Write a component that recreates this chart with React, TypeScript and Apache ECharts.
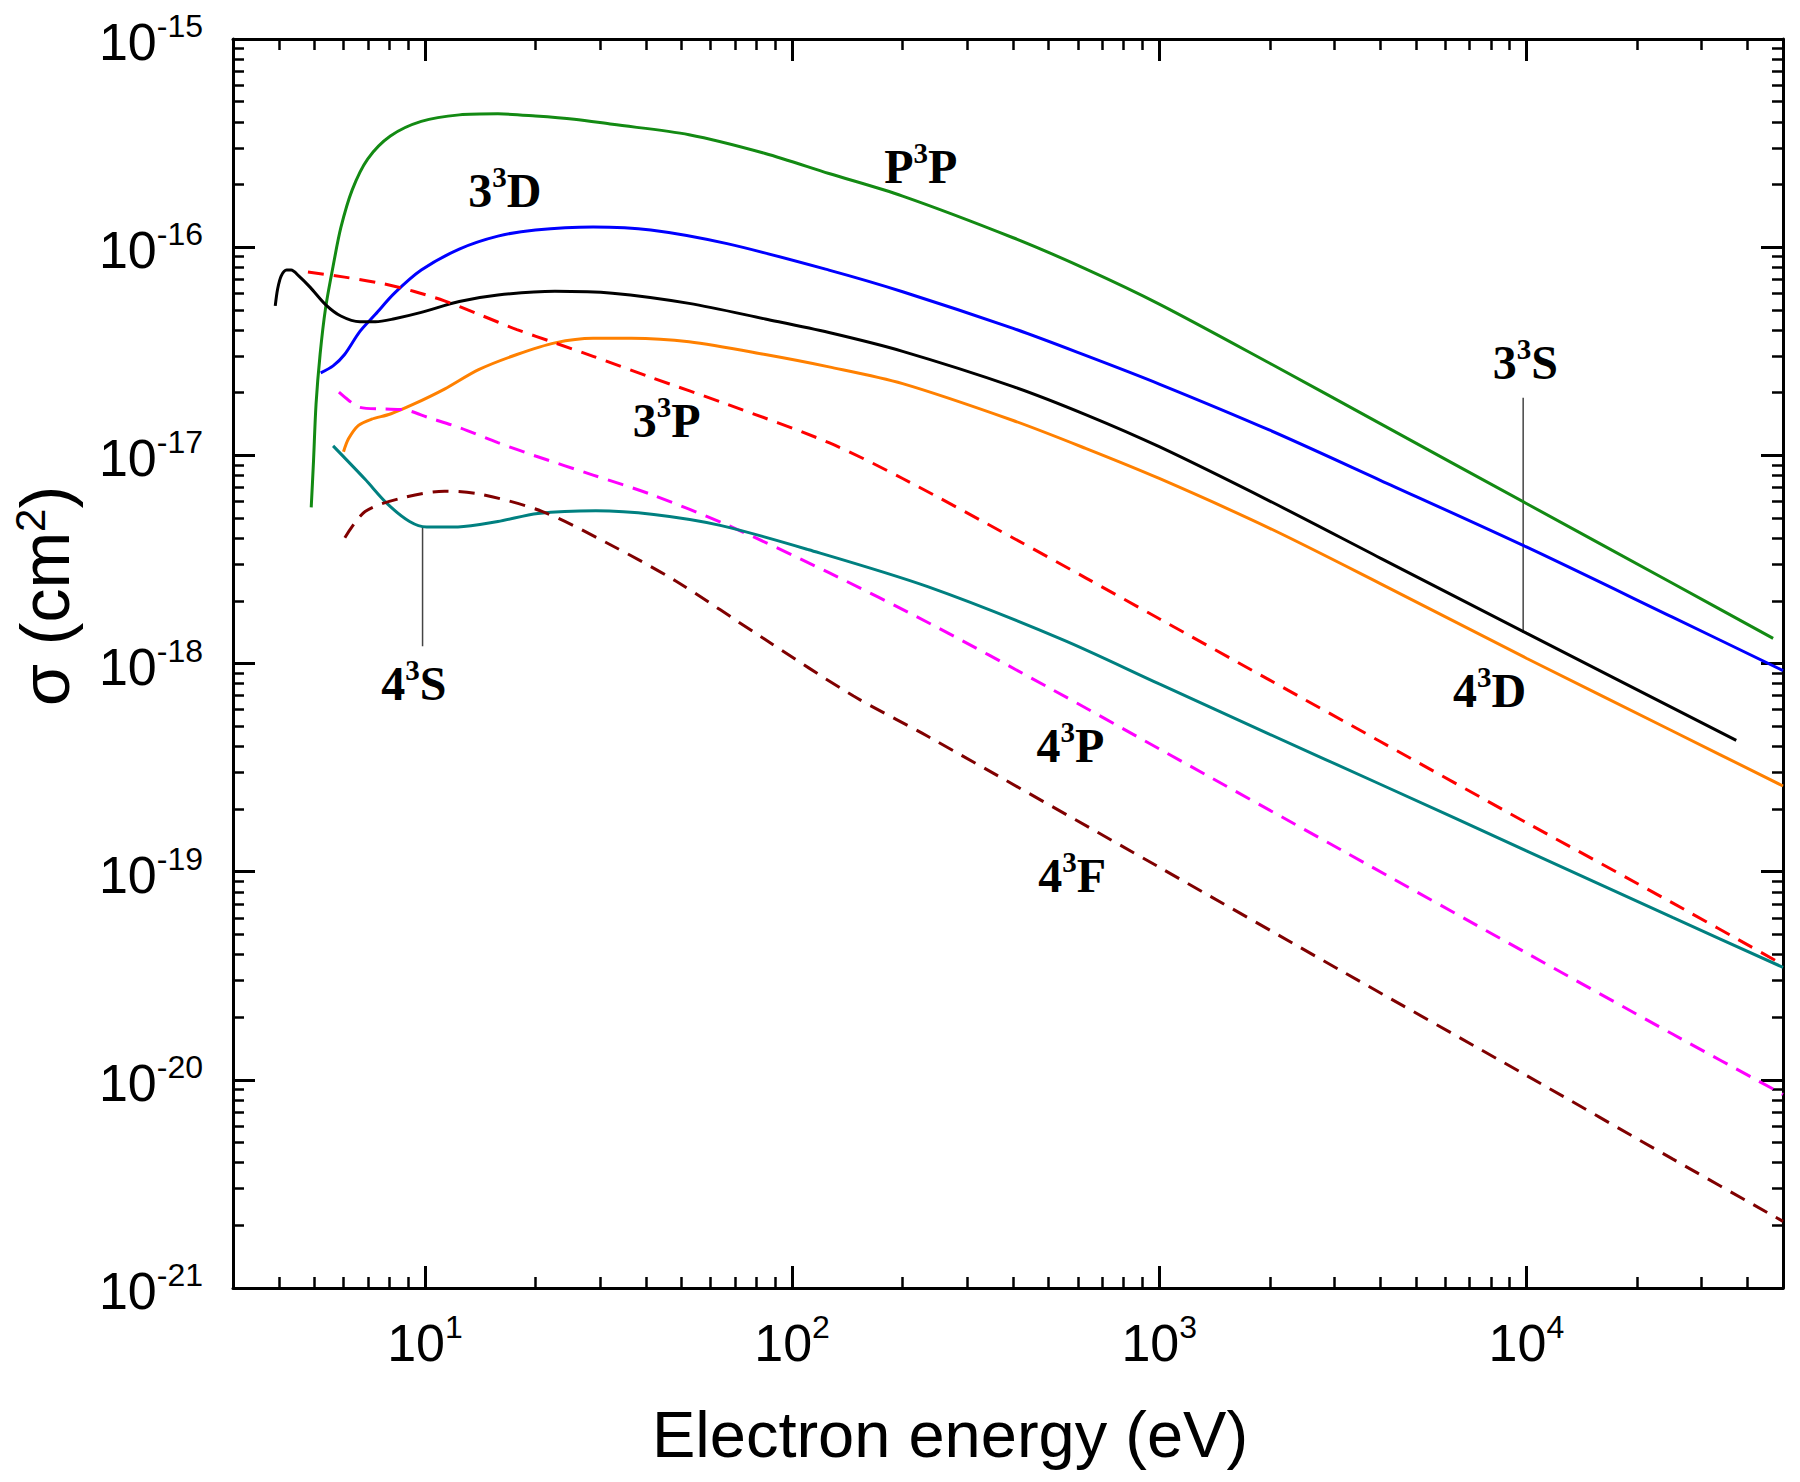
import React, { useEffect, useRef } from 'react';
import * as echarts from 'echarts';

// ---------- axis ranges and ticks ----------
const X_MIN = 3;
const X_MAX = 50000;
const Y_MIN = 1e-21;
const Y_MAX = 1e-15;
const X_MAJOR = [10, 100, 1000, 10000];
const X_MINOR = [4, 5, 6, 7, 8, 9, 20, 30, 40, 50, 60, 70, 80, 90, 200, 300, 400, 500, 600, 700, 800, 900,
  2000, 3000, 4000, 5000, 6000, 7000, 8000, 9000, 20000, 30000, 40000];
const Y_MAJOR = [1e-21, 1e-20, 1e-19, 1e-18, 1e-17, 1e-16, 1e-15];
const Y_DECADES = [-21, -20, -19, -18, -17, -16];
const Y_MINOR_MULT = [2, 3, 4, 5, 6, 7, 8, 9];

// ---------- series data (E in eV, sigma in cm^2) ----------
const PPP_E = [4.9, 4.97, 5.05, 5.18, 5.36, 5.62, 5.9, 6.34, 6.98, 8.05, 9.77, 12.4, 15.8, 20, 25.5, 32.4, 52.4, 84.5, 126, 200, 400, 630, 1000, 2000, 4000, 10000, 25000, 47000];
const PPP_S = [5.62e-18, 9.33e-18, 1.76e-17, 3.05e-17, 5.08e-17, 8.09e-17, 1.24e-16, 1.89e-16, 2.65e-16, 3.42e-16, 4.02e-16, 4.32e-16, 4.37e-16, 4.27e-16, 4.12e-16, 3.89e-16, 3.47e-16, 2.82e-16, 2.26e-16, 1.76e-16, 1.11e-16, 7.87e-17, 5.33e-17, 2.77e-17, 1.42e-17, 5.87e-18, 2.43e-18, 1.32e-18];

const D33_E = [5.2, 5.62, 6.04, 6.65, 7.33, 8.26, 9.77, 12.4, 15.8, 20, 28.7, 41.2, 66.5, 126, 200, 400, 630, 1000, 2000, 4000, 10000, 25000, 50000];
const D33_S = [2.49e-17, 2.69e-17, 3.05e-17, 3.94e-17, 4.76e-17, 6.01e-17, 7.76e-17, 9.79e-17, 1.13e-16, 1.21e-16, 1.25e-16, 1.21e-16, 1.04e-16, 7.76e-17, 6.11e-17, 4.07e-17, 3.02e-17, 2.20e-17, 1.32e-17, 7.59e-18, 3.63e-18, 1.67e-18, 9.25e-19];

const S33_E = [3.91, 3.97, 4.06, 4.2, 4.32, 4.53, 4.87, 5.36, 5.9, 6.65, 7.33, 8.26, 9.77, 12.4, 15.8, 22.6, 32.4, 52.4, 84.5, 126, 200, 400, 630, 1000, 2000, 4000, 10000, 37300];
const S33_S = [5.22e-17, 6.31e-17, 7.28e-17, 7.76e-17, 7.76e-17, 7.28e-17, 6.41e-17, 5.30e-17, 4.67e-17, 4.38e-17, 4.38e-17, 4.53e-17, 4.86e-17, 5.48e-17, 5.89e-17, 6.14e-17, 6.01e-17, 5.37e-17, 4.52e-17, 3.89e-17, 3.16e-17, 2.14e-17, 1.57e-17, 1.10e-17, 6.03e-18, 3.21e-18, 1.40e-18, 4.27e-19];

const P33_E = [6.0, 6.19, 6.58, 7.14, 8.05, 9.31, 11.3, 14.0, 17.8, 22.6, 28.7, 36.5, 52.4, 84.5, 126, 200, 400, 630, 1000, 2000, 4000, 10000, 25000, 50000];
const P33_S = [1.04e-17, 1.20e-17, 1.39e-17, 1.49e-17, 1.58e-17, 1.76e-17, 2.08e-17, 2.58e-17, 3.05e-17, 3.47e-17, 3.65e-17, 3.65e-17, 3.51e-17, 3.05e-17, 2.66e-17, 2.21e-17, 1.47e-17, 1.08e-17, 7.74e-18, 4.46e-18, 2.42e-18, 1.06e-18, 4.74e-19, 2.58e-19];

const D43_E = [4.8, 6.04, 7.67, 9.31, 11.3, 14.0, 17.8, 22.6, 28.7, 41.2, 66.5, 126, 200, 400, 630, 1000, 2000, 4000, 10000, 25000, 48000];
const D43_S = [7.59e-17, 7.18e-17, 6.68e-17, 6.14e-17, 5.52e-17, 4.76e-17, 4.02e-17, 3.47e-17, 2.99e-17, 2.37e-17, 1.76e-17, 1.15e-17, 7.74e-18, 4.01e-18, 2.58e-18, 1.64e-18, 8.32e-19, 4.22e-19, 1.72e-19, 7.08e-20, 3.72e-20];

const P43_E = [5.83, 6.19, 6.65, 7.67, 8.87, 10.2, 12.4, 15.8, 20, 28.7, 41.2, 66.5, 126, 235, 500, 1000, 3160, 10000, 25000, 50000];
const P43_S = [2.01e-17, 1.84e-17, 1.70e-17, 1.67e-17, 1.65e-17, 1.52e-17, 1.36e-17, 1.15e-17, 9.93e-18, 8.04e-18, 6.50e-18, 4.63e-18, 2.73e-18, 1.57e-18, 7.66e-19, 3.89e-19, 1.26e-19, 4.07e-20, 1.66e-20, 8.51e-21];

const S43_E = [5.62, 6.87, 7.89, 9.08, 10.1, 12.3, 15.8, 20.3, 29.2, 42, 63.7, 111, 234, 541, 1000, 2000, 4000, 10000, 25000, 50000];
const S43_S = [1.11e-17, 7.67e-18, 5.86e-18, 4.81e-18, 4.53e-18, 4.53e-18, 4.81e-18, 5.26e-18, 5.42e-18, 5.20e-18, 4.61e-18, 3.52e-18, 2.34e-18, 1.31e-18, 7.98e-19, 4.57e-19, 2.63e-19, 1.26e-19, 6.03e-20, 3.47e-20];

const F43_E = [6.05, 6.87, 8.59, 11.3, 14.2, 20.9, 31.8, 48.2, 84.1, 147, 234, 1000, 3160, 10000, 25000, 50000];
const F43_S = [4.02e-18, 5.37e-18, 6.22e-18, 6.73e-18, 6.50e-18, 5.37e-18, 3.74e-18, 2.49e-18, 1.31e-18, 6.98e-19, 4.47e-19, 1.05e-19, 3.31e-20, 1.05e-20, 4.17e-21, 2.09e-21];

// ---------- annotations ----------
const ANNO_PARTS = [['P', '3', 'P'], ['3', '3', 'D'], ['3', '3', 'S'], ['4', '3', 'D'], ['3', '3', 'P'], ['4', '3', 'S'], ['4', '3', 'P'], ['4', '3', 'F']];
const ANNO_E = [224, 16.5, 9930, 7940, 45.5, 9.33, 573, 579];
const ANNO_S = [2.50e-16, 1.92e-16, 2.86e-17, 7.60e-19, 1.50e-17, 8.15e-19, 4.12e-19, 9.85e-20];

// leader lines [E, sigmaTop, sigmaBottom]
const LEADER_3S = [9800, 1.89e-17, 1.40e-18];
const LEADER_4S = [9.85, 4.53e-18, 1.21e-18];

const pairs = (xs: number[], ys: number[]) => xs.map((x, i) => [x, ys[i]]);

const SANS = '"Liberation Sans", Arial, sans-serif';
const SERIF = '"Liberation Serif", "Times New Roman", serif';

export default function App() {
  const ref = useRef<HTMLDivElement>(null);

  useEffect(() => {
    document.body.style.margin = '0';
    if (!ref.current) return;
    const chart = echarts.init(ref.current, null, { renderer: 'svg' });

    const yMinor: number[] = [];
    Y_DECADES.forEach((d) => Y_MINOR_MULT.forEach((m) => yMinor.push(m * Math.pow(10, d))));

    const tickRich = {
      b: { fontFamily: SANS, fontSize: 52, lineHeight: 58, verticalAlign: 'bottom', color: '#000' },
      s: { fontFamily: SANS, fontSize: 32, lineHeight: 24, verticalAlign: 'top', color: '#000' },
    };
    const expFmt = (v: number) => `{b|10}{s|${Math.round(Math.log10(v))}}`;

    const noSplit = { show: false };
    const mkX = (pos: 'bottom' | 'top', major: boolean, labels: boolean) => ({
      type: 'log',
      logBase: 10,
      min: X_MIN,
      max: X_MAX,
      position: pos,
      gridIndex: 0,
      axisLine: { show: major, onZero: false, lineStyle: { color: '#000', width: 3 } },
      axisTick: {
        show: true,
        inside: true,
        length: major ? 22 : 11,
        customValues: major ? X_MAJOR : X_MINOR,
        lineStyle: { color: '#000', width: major ? 3 : 2.5 },
      },
      axisLabel: labels
        ? { show: true, customValues: X_MAJOR, margin: 23, formatter: expFmt, rich: tickRich }
        : { show: false },
      splitLine: noSplit,
      minorTick: { show: false },
      minorSplitLine: { show: false },
    });
    const mkY = (pos: 'left' | 'right', major: boolean, labels: boolean) => ({
      type: 'log',
      logBase: 10,
      min: Y_MIN,
      max: Y_MAX,
      position: pos,
      gridIndex: 0,
      axisLine: { show: major, onZero: false, lineStyle: { color: '#000', width: 3 } },
      axisTick: {
        show: true,
        inside: true,
        length: major ? 22 : 11,
        customValues: major ? Y_MAJOR : yMinor,
        lineStyle: { color: '#000', width: major ? 3 : 2.5 },
      },
      axisLabel: labels
        ? { show: true, customValues: Y_MAJOR, margin: 30, formatter: expFmt, rich: tickRich }
        : { show: false },
      splitLine: noSplit,
      minorTick: { show: false },
      minorSplitLine: { show: false },
    });

    const curve = (name: string, xs: number[], ys: number[], color: string, dashed: boolean) => ({
      name,
      type: 'line',
      xAxisIndex: 0,
      yAxisIndex: 0,
      data: pairs(xs, ys),
      showSymbol: false,
      symbol: 'none',
      smooth: 0.3,
      silent: true,
      lineStyle: { color, width: 3, type: dashed ? [16, 10] : 'solid' },
      z: 3,
    });

    const leader = (name: string, l: number[]) => ({
      name,
      type: 'line',
      xAxisIndex: 0,
      yAxisIndex: 0,
      data: [[l[0], l[1]], [l[0], l[2]]],
      showSymbol: false,
      symbol: 'none',
      silent: true,
      lineStyle: { color: '#444', width: 1.5 },
      z: 2,
    });

    const annoRich = {
      b: { fontFamily: SERIF, fontWeight: 'bold', fontSize: 48, lineHeight: 52, verticalAlign: 'bottom', color: '#000' },
      s: { fontFamily: SERIF, fontWeight: 'bold', fontSize: 29, lineHeight: 34, verticalAlign: 'top', color: '#000' },
    };

    const option = {
      animation: false,
      backgroundColor: '#fff',
      grid: { left: 233, right: 17, top: 39, bottom: 194, containLabel: false, outerBoundsMode: 'none' },
      xAxis: [mkX('bottom', true, true), mkX('bottom', false, false), mkX('top', true, false), mkX('top', false, false)],
      yAxis: [mkY('left', true, true), mkY('left', false, false), mkY('right', true, false), mkY('right', false, false)],
      series: [
        curve('P³P', PPP_E, PPP_S, '#138a13', false),
        curve('3³D', D33_E, D33_S, '#0000ff', false),
        curve('3³S', S33_E, S33_S, '#000000', false),
        curve('3³P', P33_E, P33_S, '#ff8000', false),
        curve('4³D', D43_E, D43_S, '#ff0000', true),
        curve('4³P', P43_E, P43_S, '#ff00ff', true),
        curve('4³S', S43_E, S43_S, '#008080', false),
        curve('4³F', F43_E, F43_S, '#800000', true),
        leader('lead3S', LEADER_3S),
        leader('lead4S', LEADER_4S),
        {
          name: 'labels',
          type: 'scatter',
          xAxisIndex: 0,
          yAxisIndex: 0,
          symbolSize: 1,
          silent: true,
          itemStyle: { color: 'rgba(0,0,0,0)' },
          data: ANNO_E.map((e, i) => ({ value: [e, ANNO_S[i]], name: ANNO_PARTS[i].join('') })),
          label: {
            show: true,
            position: 'inside',
            color: '#000',
            opacity: 1,
            formatter: (p: any) => {
              const parts = ANNO_PARTS[p.dataIndex];
              return `{b|${parts[0]}}{s|${parts[1]}}{b|${parts[2]}}`;
            },
            rich: annoRich,
          },
          labelLayout: { hideOverlap: false },
          z: 5,
        },
      ],
      graphic: [
        {
          type: 'text',
          x: 950,
          y: 1434,
          style: {
            text: 'Electron energy (eV)',
            fontFamily: SANS,
            fontSize: 65,
            fill: '#000',
            align: 'center',
            verticalAlign: 'middle',
          },
        },
        {
          type: 'text',
          x: 44,
          y: 596,
          rotation: Math.PI / 2,
          style: {
            text: '{a|σ (cm}{s|2}{a|)}',
            align: 'center',
            verticalAlign: 'middle',
            rich: {
              a: { fontFamily: SANS, fontSize: 68, lineHeight: 70, verticalAlign: 'bottom', fill: '#000' },
              s: { fontFamily: SANS, fontSize: 42, lineHeight: 68, verticalAlign: 'top', fill: '#000' },
            },
          },
        },
      ],
    };

    chart.setOption(option as any);
    return () => chart.dispose();
  }, []);

  return <div ref={ref} style={{ width: 1800, height: 1482 }} />;
}
